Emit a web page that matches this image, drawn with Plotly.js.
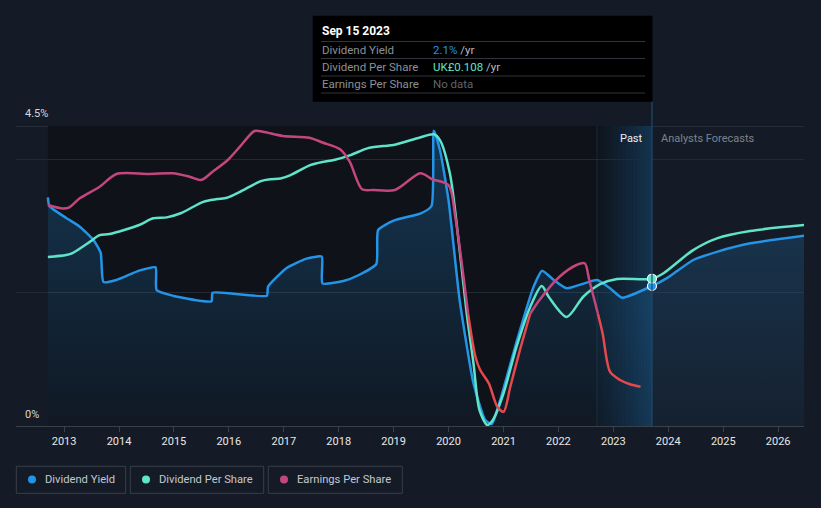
<!DOCTYPE html>
<html>
<head>
<meta charset="utf-8">
<script src="https://cdn.plot.ly/plotly-3.0.1.min.js"></script>
<style>
html,body{margin:0;padding:0;background:#151b26;}
#chart{width:821px;height:508px;}
</style>
</head>
<body>
<div id="chart"></div>
<script>
// ---- Data ----
const tickYears = ['2013','2014','2015','2016','2017','2018','2019','2020','2021','2022','2023','2024','2025','2026'];

// Dividend Yield (%)
const dyDates = ['2012-09-15','2012-09-25','2013-01-15','2013-04-15','2013-07-15','2013-09-01','2013-09-20','2013-12-15',
  '2014-05-15','2014-09-01','2014-09-08','2015-01-01','2015-07-01','2015-09-08','2015-09-15','2016-02-01','2016-09-10',
  '2016-09-18','2017-01-20','2017-06-01','2017-09-10','2017-09-15','2018-02-01','2018-05-15','2018-09-08','2018-09-20',
  '2019-01-01','2019-07-01','2019-09-10','2019-09-25','2019-11-05','2020-01-01','2020-03-15','2020-06-15','2020-09-01',
  '2020-10-15','2020-12-10','2021-04-01','2021-07-20','2021-09-15','2021-12-01','2022-02-25','2022-09-15','2022-12-10',
  '2023-03-01','2023-09-15','2024-01-01','2024-06-15','2024-12-01','2025-07-01','2026-06-30'];
const dyVals = [3.43,3.30,3.12,2.99,2.79,2.60,2.16,2.19,
  2.33,2.38,2.04,1.95,1.875,1.87,2.00,1.985,1.955,
  2.09,2.37,2.51,2.54,2.14,2.175,2.265,2.43,2.94,
  3.08,3.19,3.30,4.43,4.14,3.39,1.89,0.64,0.09,
  0.03,0.39,1.29,2.09,2.33,2.19,2.065,2.19,2.065,
  1.925,2.10,2.23,2.49,2.62,2.74,2.855];

// Dividend Per Share (UK£)
const dpsDates = ['2012-09-15','2013-01-15','2013-03-01','2013-06-20','2013-08-25','2013-10-30','2014-05-15','2014-08-15',
  '2014-11-15','2015-02-15','2015-07-15','2015-10-15','2015-12-20','2016-03-15','2016-08-01','2016-10-05','2016-12-10',
  '2017-02-15','2017-06-25','2017-09-20','2017-11-30','2018-03-20','2018-07-10','2018-10-25','2019-01-01','2019-06-25',
  '2019-09-25','2019-11-05','2020-01-10','2020-03-15','2020-05-01','2020-06-15','2020-07-25','2020-09-15','2020-10-22',
  '2021-01-01','2021-03-28','2021-06-28','2021-09-12','2021-10-28','2022-02-25','2022-06-15','2022-10-05','2023-01-25',
  '2023-09-15','2023-12-01','2024-06-15','2024-11-20','2025-06-28','2026-06-30'];
const dpsVals = [0.124,0.1254,0.127,0.135,0.140,0.1408,0.1474,0.1523,
  0.153,0.156,0.1644,0.1664,0.1674,0.1717,0.1796,0.181,0.1815,
  0.184,0.1913,0.1937,0.195,0.1986,0.2036,0.2053,0.206,0.2116,
  0.2139,0.2097,0.1853,0.129,0.0826,0.046,0.0117,0.0007,0.0044,
  0.024,0.058,0.0875,0.1027,0.0948,0.080,0.0948,0.104,0.1078,
  0.108,0.112,0.129,0.1376,0.143,0.1474];

// Earnings Per Share (UK£)
const epsDates = ['2012-09-15','2012-12-25','2013-02-05','2013-04-15','2013-08-25','2013-12-15','2014-07-20','2014-12-25',
  '2015-04-15','2015-07-01','2015-09-15','2015-12-25','2016-03-15','2016-06-20','2016-08-15','2016-12-25','2017-06-20',
  '2017-09-15','2018-01-10','2018-03-15','2018-06-05','2018-08-20','2019-01-10','2019-06-28','2019-09-15','2020-01-01',
  '2020-02-15','2020-05-10','2020-06-28','2020-07-30','2020-09-25','2020-11-20','2021-01-01','2021-02-15','2021-04-20',
  '2021-06-28','2021-08-28','2022-01-08','2022-05-01','2022-06-25','2022-07-25','2022-09-20','2022-10-22','2022-12-10',
  '2023-02-15','2023-04-22','2023-07-01'];
const epsVals = [0.1447,0.140,0.1416,0.1536,0.169,0.186,0.186,0.187,
  0.1824,0.178,0.189,0.2047,0.2224,0.2433,0.2424,0.2367,0.2344,
  0.228,0.219,0.2024,0.1656,0.1647,0.1647,0.187,0.179,0.1713,
  0.129,0,-0.0576,-0.0753,-0.093,-0.124,-0.131,-0.0976,-0.0487,
  0,0.018,0.049,0.0647,0.067,0.0447,0,-0.0267,-0.0776,
  -0.0887,-0.0944,-0.0976];

const tooltipDate = '2023-09-15';
const pastStart = '2022-09-15';

// ---- Styling ----
const C_DY = '#2394e6', C_DPS = '#5fe3c9', C_EPS = '#c4467f', C_NEG = '#e5484d';
const BG = '#151b26', DARK = '#0f1219';
const FONT = 'Roboto, "Open Sans", sans-serif';

const epsPos = epsVals.map(v => v >= 0 ? v : null);
const epsNeg = epsVals.map(v => v <= 0 ? v : null);
const tipIdxDY = dyDates.indexOf(tooltipDate);
const tipIdxDPS = dpsDates.indexOf(tooltipDate);

const traces = [
  {x: dyDates, y: dyVals, type: 'scatter', mode: 'lines', yaxis: 'y',
   line: {color: C_DY, width: 2.5, shape: 'spline', smoothing: 0.5}, fill: 'tozeroy',
   fillgradient: {type: 'vertical', start: 0, stop: 4.5,
     colorscale: [[0, 'rgba(35,148,230,0.05)'], [1, 'rgba(35,148,230,0.28)']]},
   hoverinfo: 'skip'},
  {x: dpsDates, y: dpsVals, type: 'scatter', mode: 'lines', yaxis: 'y2',
   line: {color: C_DPS, width: 2.5, shape: 'spline', smoothing: 0.8}, hoverinfo: 'skip'},
  {x: epsDates, y: epsPos, type: 'scatter', mode: 'lines', yaxis: 'y3', connectgaps: false,
   line: {color: C_EPS, width: 2.5, shape: 'spline', smoothing: 0.8}, hoverinfo: 'skip'},
  {x: epsDates, y: epsNeg, type: 'scatter', mode: 'lines', yaxis: 'y3', connectgaps: false,
   line: {color: C_NEG, width: 2.5, shape: 'spline', smoothing: 0.8}, hoverinfo: 'skip'},
  {x: [dpsDates[tipIdxDPS]], y: [dpsVals[tipIdxDPS]], type: 'scatter', mode: 'markers', yaxis: 'y2',
   marker: {color: C_DPS, size: 9, line: {color: '#ffffff', width: 1.2}}, cliponaxis: false, hoverinfo: 'skip'},
  {x: [dyDates[tipIdxDY]], y: [dyVals[tipIdxDY]], type: 'scatter', mode: 'markers', yaxis: 'y',
   marker: {color: C_DY, size: 9, line: {color: '#ffffff', width: 1.2}}, cliponaxis: false, hoverinfo: 'skip'}
];

// pixel -> paper helpers (plot area: x 16..804, y 126..426)
const L = 16, R = 804, T = 126, B = 426;
const X = px => (px - L) / (R - L);
const Y = py => (B - py) / (B - T);

const shapes = [];
// darker "past" region
shapes.push({type: 'rect', layer: 'below', xref: 'x', yref: 'y', x0: dyDates[0], x1: tooltipDate, y0: 0, y1: 4.5,
  fillcolor: DARK, line: {width: 0}});
// gradient band before the tooltip date
const a = Date.parse(pastStart), b = Date.parse(tooltipDate), n = 20;
for (let i = 0; i < n; i++) {
  const x0 = new Date(a + (b - a) * i / n).toISOString().slice(0, 10);
  const x1 = new Date(a + (b - a) * (i + 1) / n).toISOString().slice(0, 10);
  const al = 0.02 + 0.26 * (i + 0.5) / n;
  shapes.push({type: 'rect', layer: 'below', xref: 'x', yref: 'y', x0: x0, x1: x1, y0: 0, y1: 4.5,
    fillcolor: 'rgba(35,140,220,' + al.toFixed(3) + ')', line: {width: 0}});
}
shapes.push({type: 'line', layer: 'below', xref: 'x', yref: 'y', x0: pastStart, x1: pastStart, y0: 0, y1: 4.5,
  line: {color: '#1c2836', width: 1}});
// top 4.5% line
shapes.push({type: 'line', layer: 'below', xref: 'paper', yref: 'y', x0: 0, x1: 1, y0: 4.5, y1: 4.5,
  line: {color: '#3b414b', width: 1}});
// tooltip vertical line
shapes.push({type: 'line', layer: 'above', xref: 'x', yref: 'paper', x0: tooltipDate, x1: tooltipDate, y0: 0, y1: Y(101),
  line: {color: '#1d4a70', width: 1.2}});
// tooltip box
shapes.push({type: 'rect', xref: 'paper', yref: 'paper', x0: X(312.7), x1: X(652.5), y0: Y(101.7), y1: Y(15.7),
  fillcolor: '#000000', line: {width: 0}});
[41.5, 58.5, 76, 93].forEach(py => shapes.push({type: 'line', xref: 'paper', yref: 'paper',
  x0: X(321), x1: X(645), y0: Y(py), y1: Y(py), line: {color: '#30353d', width: 1}}));

// legend boxes
const legendItems = [
  {name: 'Dividend Yield', color: C_DY, x0: 16.3, x1: 125.7},
  {name: 'Dividend Per Share', color: C_DPS, x0: 130.3, x1: 263.7},
  {name: 'Earnings Per Share', color: C_EPS, x0: 268.3, x1: 402.3}
];
const annotations = [];
legendItems.forEach(it => {
  shapes.push({type: 'rect', xref: 'paper', yref: 'paper', x0: X(it.x0), x1: X(it.x1), y0: Y(493.3), y1: Y(466.3),
    fillcolor: 'rgba(0,0,0,0)', line: {color: '#393f49', width: 1}});
  shapes.push({type: 'circle', xref: 'paper', yref: 'paper', xsizemode: 'pixel', ysizemode: 'pixel',
    xanchor: X(it.x0 + 15.7), yanchor: Y(479.5), x0: -4, x1: 4, y0: -4, y1: 4,
    fillcolor: it.color, line: {width: 0}});
  annotations.push({xref: 'paper', yref: 'paper', x: X(it.x0 + 27), y: Y(479.5), xanchor: 'left', yanchor: 'middle',
    text: it.name, showarrow: false, font: {family: FONT, size: 11.2, color: '#c3c7ce'}});
});

// tooltip text
const tipFont = s => ({family: FONT, size: s.size || 11.5, color: s.color});
annotations.push({xref: 'paper', yref: 'paper', x: X(320), y: Y(31), xanchor: 'left', yanchor: 'middle', showarrow: false,
  text: '<b>Sep 15 2023</b>', font: tipFont({size: 12, color: '#ffffff'})});
const rows = [
  ['Dividend Yield', '<span style="color:' + C_DY + '">2.1%</span> /yr', 49.5],
  ['Dividend Per Share', '<span style="color:' + C_DPS + '">UK£0.108</span> /yr', 67],
  ['Earnings Per Share', '<span style="color:#5f656d">No data</span>', 84.5]
];
rows.forEach(r => {
  annotations.push({xref: 'paper', yref: 'paper', x: X(320), y: Y(r[2]), xanchor: 'left', yanchor: 'middle', showarrow: false,
    text: r[0], font: tipFont({color: '#8b9098'})});
  annotations.push({xref: 'paper', yref: 'paper', x: X(431), y: Y(r[2]), xanchor: 'left', yanchor: 'middle', showarrow: false,
    text: r[1], font: tipFont({color: '#b8bcc3'})});
});
// Past / Analysts Forecasts
annotations.push({xref: 'paper', yref: 'paper', x: X(645), y: Y(138), xanchor: 'right', yanchor: 'middle', showarrow: false,
  text: 'Past', font: {family: FONT, size: 11, color: '#eeeeee'}});
annotations.push({xref: 'paper', yref: 'paper', x: X(659), y: Y(138), xanchor: 'left', yanchor: 'middle', showarrow: false,
  text: 'Analysts Forecasts', font: {family: FONT, size: 11, color: '#7d838c'}});
// y labels
annotations.push({xref: 'paper', yref: 'paper', x: X(23), y: Y(114), xanchor: 'left', yanchor: 'middle', showarrow: false,
  text: '4.5%', font: {family: FONT, size: 11, color: '#d5d8dc'}});
annotations.push({xref: 'paper', yref: 'paper', x: X(23), y: Y(414), xanchor: 'left', yanchor: 'middle', showarrow: false,
  text: '0%', font: {family: FONT, size: 11, color: '#d5d8dc'}});

const layout = {
  width: 821, height: 508,
  margin: {l: L, r: 821 - R, t: T, b: 508 - B},
  paper_bgcolor: BG, plot_bgcolor: BG,
  font: {family: FONT, color: '#e6e6e6'},
  showlegend: false,
  xaxis: {type: 'date', range: ['2012-02-16', '2026-06-22'],
    tickvals: tickYears.map(y => y + '-01-01'), ticktext: tickYears,
    ticks: 'outside', ticklen: 5, tickcolor: '#3b414b', showline: true, linecolor: '#3b414b', linewidth: 1,
    showgrid: false, zeroline: false, tickfont: {family: FONT, size: 11, color: '#e8e8e8'}, fixedrange: true},
  yaxis: {range: [0, 4.5], tickvals: [2, 4], showticklabels: false, gridcolor: '#232a35', gridwidth: 1,
    zeroline: false, showline: false, ticks: '', fixedrange: true},
  yaxis2: {overlaying: 'y', range: [0, 0.22], visible: false, fixedrange: true},
  yaxis3: {overlaying: 'y', range: [-0.15, 0.25], visible: false, fixedrange: true},
  shapes: shapes,
  annotations: annotations
};

Plotly.newPlot('chart', traces, layout, {displayModeBar: false, staticPlot: true});
</script>
</body>
</html>
